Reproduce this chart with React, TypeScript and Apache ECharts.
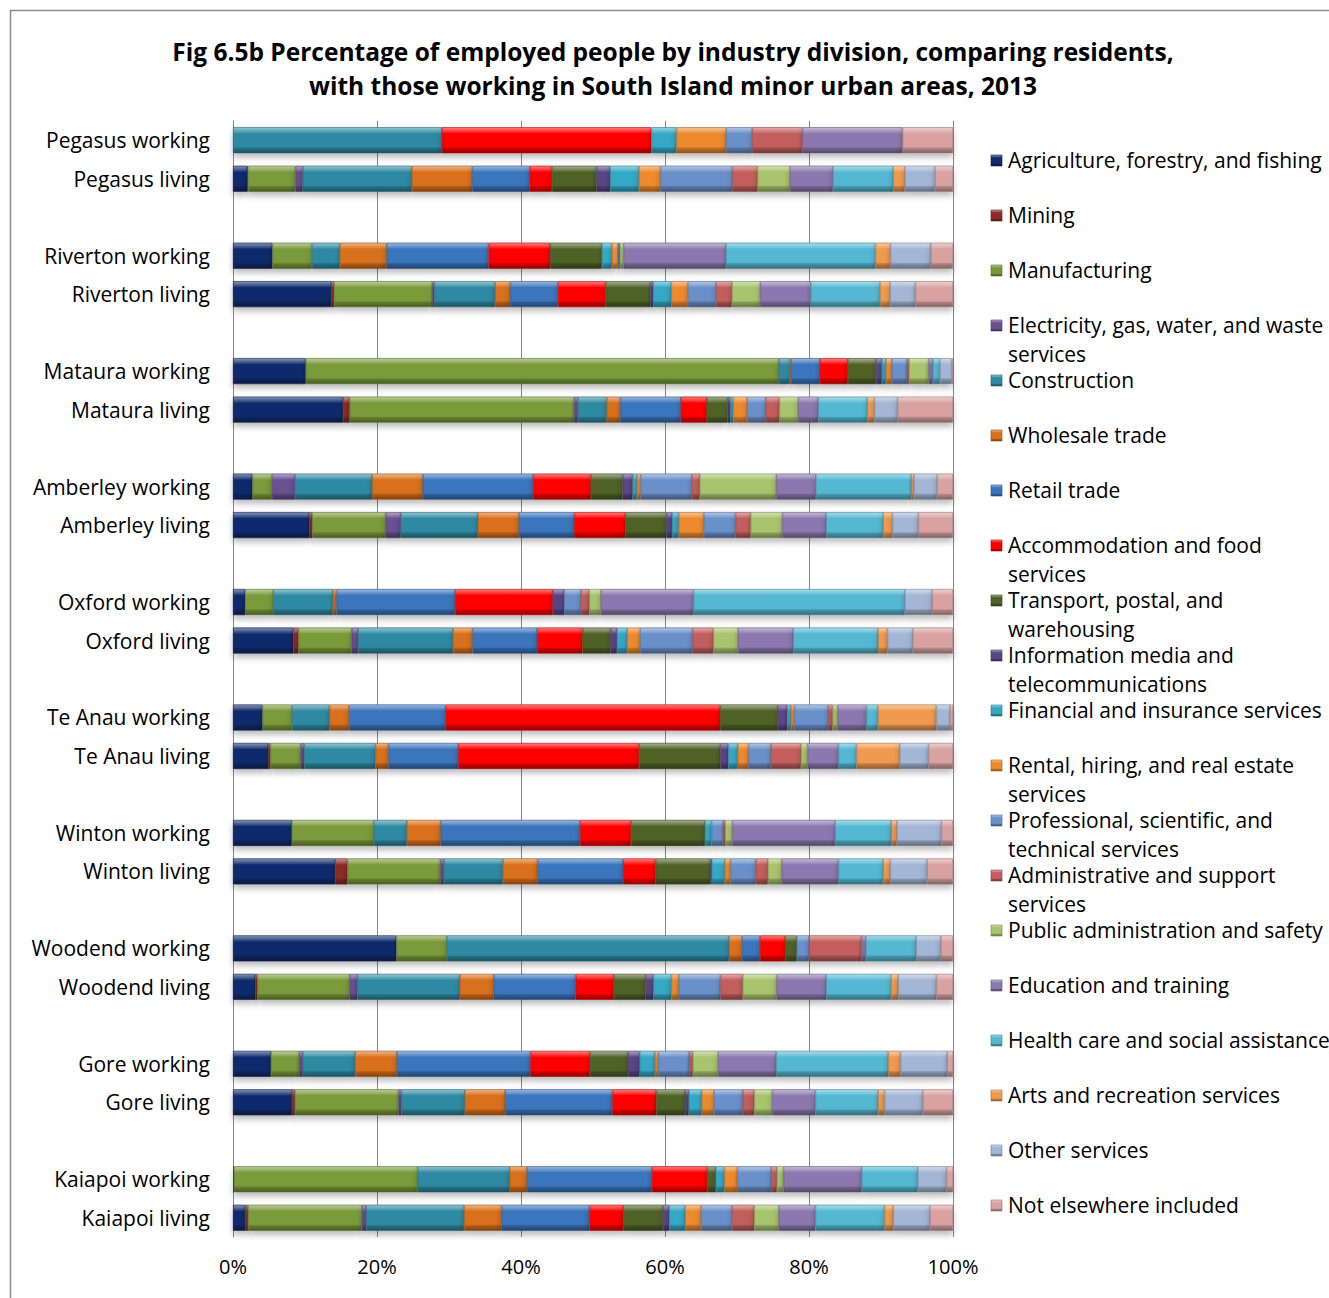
import React, { useEffect, useRef } from 'react';
import * as echarts from 'echarts';

// ---- Data ----
const industries = [
  'Agriculture, forestry, and fishing',
  'Mining',
  'Manufacturing',
  'Electricity, gas, water, and waste services',
  'Construction',
  'Wholesale trade',
  'Retail trade',
  'Accommodation and food services',
  'Transport, postal, and warehousing',
  'Information media and telecommunications',
  'Financial and insurance services',
  'Rental, hiring, and real estate services',
  'Professional, scientific, and technical services',
  'Administrative and support services',
  'Public administration and safety',
  'Education and training',
  'Health care and social assistance',
  'Arts and recreation services',
  'Other services',
  'Not elsewhere included',
];

const legendLabels = [
  'Agriculture, forestry, and fishing',
  'Mining',
  'Manufacturing',
  'Electricity, gas, water, and waste\nservices',
  'Construction',
  'Wholesale trade',
  'Retail trade',
  'Accommodation and food\nservices',
  'Transport, postal, and\nwarehousing',
  'Information media and\ntelecommunications',
  'Financial and insurance services',
  'Rental, hiring, and real estate\nservices',
  'Professional, scientific, and\ntechnical services',
  'Administrative and support\nservices',
  'Public administration and safety',
  'Education and training',
  'Health care and social assistance',
  'Arts and recreation services',
  'Other services',
  'Not elsewhere included',
];

const towns = ['Pegasus', 'Riverton', 'Mataura', 'Amberley', 'Oxford', 'Te Anau', 'Winton', 'Woodend', 'Gore', 'Kaiapoi'];

// values per bar, in industry order
const pegasusWorking = [0, 0, 0, 0, 29.0, 0, 0, 29.1, 0, 0, 3.5, 6.9, 3.6, 7.0, 0, 13.9, 0, 0, 0, 7.0];
const pegasusLiving = [2.0, 0.1, 6.6, 1.0, 15.2, 8.4, 8.0, 3.1, 6.2, 1.9, 4.0, 3.0, 10.0, 3.5, 4.5, 6.0, 8.4, 1.6, 4.2, 2.5];
const rivertonWorking = [5.5, 0, 5.5, 0, 3.9, 6.5, 14.2, 8.6, 7.2, 0, 1.4, 0.8, 0.2, 0.1, 0.5, 14.3, 20.8, 2.1, 5.6, 3.1];
const rivertonLiving = [13.6, 0.4, 13.6, 0.3, 8.4, 2.1, 6.6, 6.6, 6.2, 0.4, 2.5, 2.3, 3.9, 2.2, 3.9, 7.0, 9.6, 1.4, 3.5, 5.2];
const matauraWorking = [10.1, 0, 65.7, 0, 1.5, 0.2, 4.0, 3.9, 3.9, 0.8, 0.6, 0.8, 2.1, 0.3, 2.7, 0.6, 1.0, 0, 1.6, 0.2];
const matauraLiving = [15.3, 0.9, 31.2, 0.5, 4.0, 1.9, 8.4, 3.6, 2.9, 0.4, 0.4, 1.9, 2.6, 1.9, 2.6, 2.8, 6.8, 1.0, 3.2, 7.7];
const amberleyWorking = [2.7, 0, 2.7, 3.2, 10.7, 7.0, 15.3, 8.0, 4.4, 1.4, 0.6, 0.5, 7.1, 1.1, 10.6, 5.5, 13.2, 0.4, 3.2, 2.2];
const amberleyLiving = [10.6, 0.4, 10.2, 2.1, 10.7, 5.7, 7.7, 7.1, 5.7, 0.8, 0.9, 3.5, 4.4, 2.1, 4.4, 6.1, 7.9, 1.3, 3.6, 4.8];
const oxfordWorking = [1.7, 0, 3.9, 0, 8.3, 0.5, 16.5, 13.6, 0, 1.6, 0, 0, 2.3, 1.2, 1.6, 12.9, 29.4, 0, 3.8, 2.9];
const oxfordLiving = [8.4, 0.7, 7.4, 0.9, 13.2, 2.7, 9.0, 6.3, 3.9, 0.9, 1.4, 1.8, 7.3, 2.9, 3.4, 7.7, 11.8, 1.3, 3.5, 5.6];
const teAnauWorking = [4.1, 0, 4.1, 0, 5.2, 2.7, 13.4, 38.1, 8.0, 1.3, 0.5, 0.5, 4.7, 0.6, 0.7, 4.0, 1.6, 8.1, 1.9, 0.4];
const teAnauLiving = [4.9, 0.3, 4.2, 0.5, 9.9, 1.8, 9.7, 25.1, 11.3, 1.1, 1.3, 1.5, 3.1, 4.2, 0.9, 4.3, 2.5, 6.0, 4.0, 3.4];
const wintonWorking = [8.2, 0, 11.4, 0, 4.6, 4.7, 19.4, 7.1, 10.3, 0, 0.9, 0, 1.6, 0.3, 1.0, 14.3, 7.8, 0.8, 6.2, 1.6];
const wintonLiving = [14.2, 1.7, 12.9, 0.5, 8.2, 4.8, 11.9, 4.5, 7.6, 0.2, 1.8, 0.8, 3.5, 1.7, 1.9, 7.9, 6.2, 1.0, 5.1, 3.6];
const woodendWorking = [22.7, 0, 7.0, 0, 39.2, 1.8, 2.5, 3.5, 1.6, 0, 0, 0, 1.7, 7.3, 0, 0.6, 7.0, 0, 3.4, 1.7];
const woodendLiving = [3.1, 0.3, 12.8, 1.1, 14.2, 4.7, 11.4, 5.3, 4.4, 1.1, 2.5, 1.0, 5.8, 3.1, 4.7, 6.9, 9.0, 1.0, 5.3, 2.3];
const goreWorking = [5.3, 0, 3.9, 0.5, 7.3, 5.8, 18.6, 8.3, 5.3, 1.6, 2.1, 0.5, 4.3, 0.5, 3.5, 8.1, 15.6, 1.7, 6.5, 0.8];
const goreLiving = [8.2, 0.4, 14.4, 0.4, 8.8, 5.6, 14.9, 6.1, 4.0, 0.5, 1.8, 1.7, 4.0, 1.6, 2.5, 6.0, 8.7, 0.9, 5.3, 4.2];
const kaiapoiWorking = [0.1, 0, 25.6, 0, 12.8, 2.4, 17.4, 7.7, 1.2, 0, 1.2, 1.8, 4.7, 0.8, 0.9, 10.9, 7.8, 0, 4.0, 0.9];
const kaiapoiLiving = [1.7, 0.4, 15.8, 0.6, 13.6, 5.2, 12.2, 4.7, 5.5, 0.9, 2.2, 2.2, 4.3, 3.1, 3.4, 5.1, 9.6, 1.2, 5.1, 3.2];

const townRows = [
  [pegasusWorking, pegasusLiving],
  [rivertonWorking, rivertonLiving],
  [matauraWorking, matauraLiving],
  [amberleyWorking, amberleyLiving],
  [oxfordWorking, oxfordLiving],
  [teAnauWorking, teAnauLiving],
  [wintonWorking, wintonLiving],
  [woodendWorking, woodendLiving],
  [goreWorking, goreLiving],
  [kaiapoiWorking, kaiapoiLiving],
];

const xTicks = [0, 20, 40, 60, 80, 100];

// ---- Styles ----
const colors = [
  '#102c6c', '#8e2a28', '#7a9a3a', '#6a4f92', '#2f8aa3', '#d9701a', '#3a74bc', '#ff0000',
  '#4f6228', '#5a4585', '#35a8c6', '#ee8a2e', '#6a90ca', '#c25e5c', '#a8c46c', '#8c78ae',
  '#55b8d2', '#f09a50', '#a3b6d6', '#d9a2a1',
];

const FONT = '"Open Sans", "Noto Sans", sans-serif';

function hexToRgb(h: string) {
  const n = parseInt(h.slice(1), 16);
  return [(n >> 16) & 255, (n >> 8) & 255, n & 255];
}
function mix(h: string, target: number, t: number) {
  const c = hexToRgb(h).map((v) => Math.round(v + (target - v) * t));
  return `rgb(${c[0]},${c[1]},${c[2]})`;
}
function bevel(h: string) {
  return new echarts.graphic.LinearGradient(0, 0, 0, 1, [
    { offset: 0, color: mix(h, 255, 0.5) },
    { offset: 0.18, color: mix(h, 255, 0.15) },
    { offset: 0.24, color: h },
    { offset: 0.76, color: h },
    { offset: 0.82, color: mix(h, 0, 0.2) },
    { offset: 1, color: mix(h, 0, 0.4) },
  ]);
}

export default function App() {
  const ref = useRef<HTMLDivElement>(null);

  useEffect(() => {
    if (!ref.current) return;
    const chart = echarts.init(ref.current, undefined, { renderer: 'svg' });

    const categories: string[] = [];
    const rows: (number[] | null)[] = [];
    towns.forEach((t, i) => {
      categories.push(`${t} working`);
      rows.push(townRows[i][0]);
      categories.push(`${t} living`);
      rows.push(townRows[i][1]);
      if (i < towns.length - 1) {
        categories.push(`_gap${i}`);
        rows.push(null);
      }
    });
    const sums = rows.map((r) => (r ? r.reduce((a, b) => a + b, 0) : 0));

    const series = industries.map((name, k) => ({
      type: 'bar',
      name,
      stack: 'total',
      barWidth: 26,
      data: rows.map((r, j) => (r ? (r[k] / sums[j]) * 100 : null)),
      itemStyle: {
        color: bevel(colors[k]),
        borderColor: mix(colors[k], 0, 0.3),
        borderWidth: 0.6,
        shadowColor: 'rgba(0,0,0,0.28)',
        shadowBlur: 6,
        shadowOffsetY: 4,
      },
      emphasis: { disabled: true },
    }));

    const legendGraphics: any[] = [];
    legendLabels.forEach((lab, i) => {
      const yc = 160 + i * 55;
      legendGraphics.push({
        type: 'rect',
        shape: { x: 991, y: yc - 5, width: 11, height: 11 },
        style: { fill: bevel(colors[i]), stroke: mix(colors[i], 0, 0.3), lineWidth: 0.6 },
      });
      legendGraphics.push({
        type: 'text',
        x: 1008,
        y: yc - 14.5,
        style: {
          text: lab,
          font: `21px ${FONT}`,
          fill: '#000',
          lineHeight: 29,
          verticalAlign: 'top',
          textAlign: 'left',
        },
      });
    });

    chart.setOption({
      animation: false,
      backgroundColor: '#fff',
      tooltip: { show: false },
      legend: { show: false, data: industries },
      grid: { left: 233, right: 376, top: 121, bottom: 61, containLabel: false },
      xAxis: {
        type: 'value',
        min: xTicks[0],
        max: xTicks[xTicks.length - 1],
        interval: 20,
        axisLine: { show: false },
        axisTick: { show: false },
        splitLine: { show: true, lineStyle: { color: '#868686', width: 1 } },
        axisLabel: {
          formatter: (v: number) => `${v}%`,
          color: '#000',
          fontSize: 20,
          fontFamily: FONT,
          margin: 19,
        },
      },
      yAxis: {
        type: 'category',
        inverse: true,
        data: categories,
        axisTick: { show: false },
        axisLine: { show: true, lineStyle: { color: '#868686', width: 1 } },
        axisLabel: {
          formatter: (v: string) => (v.startsWith('_gap') ? '' : v),
          color: '#000',
          fontSize: 21,
          fontFamily: FONT,
          margin: 23,
        },
      },
      series,
      graphic: [
        {
          type: 'rect',
          silent: true,
          shape: { x: 10.5, y: 10.5, width: 1400, height: 1400 },
          style: { fill: 'none', stroke: '#8c8c8c', lineWidth: 1.5 },
        },
        {
          type: 'text',
          x: 673,
          y: 34,
          style: {
            text: 'Fig 6.5b Percentage of employed people by industry division, comparing residents,\nwith those working in South Island minor urban areas, 2013',
            font: `bold 24.5px ${FONT}`,
            fill: '#000',
            lineHeight: 34,
            textAlign: 'center',
            verticalAlign: 'top',
          },
        },
        ...legendGraphics,
      ],
    });

    return () => chart.dispose();
  }, []);

  return (
    <div
      ref={ref}
      style={{ position: 'absolute', left: 0, top: 0, width: 1329, height: 1298 }}
    />
  );
}
